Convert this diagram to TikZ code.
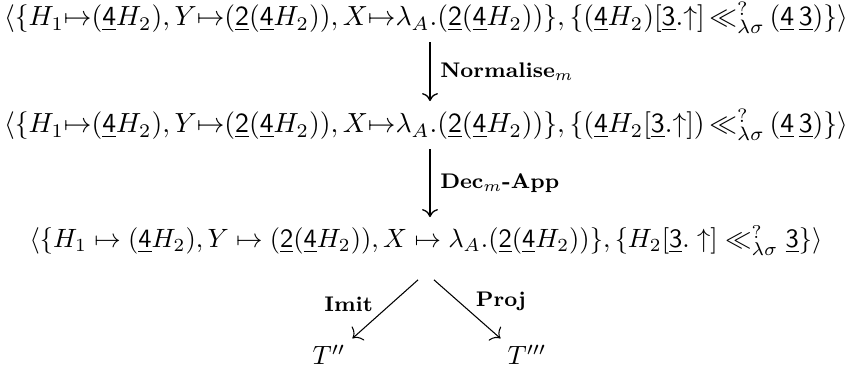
\documentclass[tikz,border=0pt]{standalone}
\usepackage{amsmath,amssymb,graphicx}
\usetikzlibrary{arrows.meta}
\newcommand{\ul}[1]{\underline{\mathsf{#1}}}
\newcommand{\wide}[1]{\resizebox{319pt}{!}{$\thickmuskip=0mu#1$}}
\tikzset{
  term/.style={anchor=base,inner sep=1pt},
  vstep/.style={line width=1.1pt,-{To[line width=0.5pt,length=3pt,width=6pt]},shorten >=2pt,shorten <=2pt},
  dstep/.style={-{To[length=3pt,width=7pt]},shorten >=2pt},
  rule/.style={font=\footnotesize\bfseries}
}
\begin{document}
\begin{tikzpicture}[x=0.378pt,y=-0.378pt]
\useasboundingbox (0,0) rectangle (852,378);
% the three terms
\node[term] (r1) at (426,26) {\wide{\langle\{H_1\mapsto(\ul{4}H_2),Y\mapsto(\ul{2}(\ul{4}H_2)),X\mapsto\lambda_A.(\ul{2}(\ul{4}H_2))\},\{(\ul{4}H_2)[\ul{3}.\uparrow]\,\ll^?_{\lambda\sigma}\,(\ul{4}\,\ul{3})\}\rangle}};
\node[term] (r2) at (426,133) {\wide{\langle\{H_1\mapsto(\ul{4}H_2),Y\mapsto(\ul{2}(\ul{4}H_2)),X\mapsto\lambda_A.(\ul{2}(\ul{4}H_2))\},\{(\ul{4}H_2[\ul{3}.\uparrow])\,\ll^?_{\lambda\sigma}\,(\ul{4}\,\ul{3})\}\rangle}};
\node[term] (r3) at (426,248) {$\langle\{H_1\mapsto(\ul{4}H_2),Y\mapsto(\ul{2}(\ul{4}H_2)),X\mapsto\lambda_A.(\ul{2}(\ul{4}H_2))\},\{H_2[\ul{3}.\uparrow]\ll^?_{\lambda\sigma}\ul{3}\}\rangle$};
\node[term] (t2) at (329,365) {$T''$};
\node[term] (t3) at (527,365) {$T'''$};
% steps
\coordinate (c) at (430,0);
\coordinate (d) at ([yshift=-8pt]r3.south);
\draw[vstep] (r1.south -| c) -- node[rule,right]{Normalise$_m$} (r2.north -| c);
\draw[vstep] (r2.south -| c) -- node[rule,right]{Dec$_m$-App} (r3.north -| c);
\draw[dstep] ([xshift=-3pt]d) -- node[rule,left=3pt,pos=0.4]{Imit} (t2.north east);
\draw[dstep] ([xshift=3pt]d) -- node[rule,right=3pt,pos=0.35]{Proj} (t3.north west);
\end{tikzpicture}
\end{document}
